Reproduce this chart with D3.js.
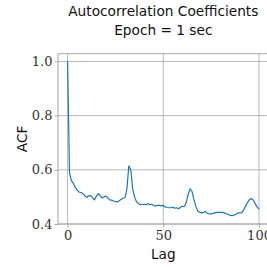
<!DOCTYPE html>
<html>
<head>
<meta charset="utf-8">
<script src="https://cdn.jsdelivr.net/npm/d3@7"></script>
<style>
  html, body { margin: 0; padding: 0; background: #fff; }
  svg { display: block; }
  .serif text { font-family: "DejaVu Serif", serif !important; }
</style>
</head>
<body>
<script>
// ---- data ----
const lags = d3.range(0, 101);
const acf = [
  1.0, 0.59, 0.56, 0.55, 0.535, 0.525, 0.518, 0.516, 0.512, 0.505,
  0.498, 0.504, 0.505, 0.497, 0.489, 0.502, 0.512, 0.505, 0.496, 0.500,
  0.503, 0.497, 0.489, 0.488, 0.485, 0.483, 0.481, 0.486, 0.491, 0.495,
  0.497, 0.53, 0.615, 0.60, 0.53, 0.50, 0.482, 0.476, 0.471, 0.472,
  0.473, 0.471, 0.476, 0.471, 0.473, 0.469, 0.466, 0.469, 0.469, 0.467,
  0.469, 0.463, 0.461, 0.460, 0.460, 0.462, 0.458, 0.460, 0.456, 0.462,
  0.465, 0.465, 0.480, 0.51, 0.53, 0.52, 0.49, 0.465, 0.448, 0.443,
  0.441, 0.443, 0.446, 0.439, 0.437, 0.437, 0.439, 0.441, 0.443, 0.443,
  0.443, 0.443, 0.440, 0.438, 0.435, 0.432, 0.431, 0.433, 0.436, 0.441,
  0.441, 0.442, 0.452, 0.466, 0.480, 0.490, 0.494, 0.488, 0.475, 0.463,
  0.455
];
const xTicks = [0, 50, 100];
const yTicks = [0.4, 0.6, 0.8, 1.0];
const titleLines = ["Autocorrelation Coefficients", "Epoch = 1 sec"];
const xLabel = "Lag";
const yLabel = "ACF";

// ---- layout ----
const W = 267, H = 267;
const mLeft = 58, mRight = 268.6, mTop = 53.7, mBottom = 224;

const x = d3.scaleLinear().domain([-5, 105]).range([mLeft, mRight]);
const y = d3.scaleLinear().domain([0.4, 1.0285]).range([mBottom, mTop]);

const svg = d3.select("body").append("svg").attr("width", W).attr("height", H);

const gridColor = "#b0b0b0";
const spineColor = "#a8a8a8";

// grid
svg.append("g").selectAll("line").data(xTicks).join("line")
  .attr("x1", d => x(d)).attr("x2", d => x(d))
  .attr("y1", mTop).attr("y2", mBottom)
  .attr("stroke", gridColor).attr("stroke-width", 0.9);
svg.append("g").selectAll("line").data(yTicks).join("line")
  .attr("x1", mLeft).attr("x2", mRight)
  .attr("y1", d => y(d)).attr("y2", d => y(d))
  .attr("stroke", gridColor).attr("stroke-width", 0.9);

// line
const line = d3.line().x((d, i) => x(lags[i])).y(d => y(d));
svg.append("path").datum(acf)
  .attr("d", line)
  .attr("fill", "none")
  .attr("stroke", "#1f77b4")
  .attr("stroke-width", 1.2)
  .attr("stroke-linejoin", "round");

// spines
svg.append("rect")
  .attr("x", mLeft).attr("y", mTop)
  .attr("width", mRight - mLeft).attr("height", mBottom - mTop)
  .attr("fill", "none").attr("stroke", spineColor).attr("stroke-width", 1);

// axes
const xAxis = d3.axisBottom(x).tickValues(xTicks).tickFormat(d3.format("d"))
  .tickSizeOuter(0).tickSizeInner(3.5).tickPadding(3);
const yAxis = d3.axisLeft(y).tickValues(yTicks).tickFormat(d3.format(".1f"))
  .tickSizeOuter(0).tickSizeInner(3.5).tickPadding(2);

const gx = svg.append("g").attr("class", "serif").attr("transform", `translate(0,${mBottom})`).call(xAxis);
const gy = svg.append("g").attr("class", "serif").attr("transform", `translate(${mLeft},0)`).call(yAxis);
[gx, gy].forEach(g => {
  g.attr("font-family", "DejaVu Serif").attr("font-size", 13);
  g.select(".domain").remove();
  g.selectAll(".tick line").attr("stroke", spineColor).attr("stroke-width", 1);
  g.selectAll(".tick text")
    .attr("fill", "#333")
    .attr("font-family", "DejaVu Serif")
    .attr("font-size", 13);
});

// title
const sans = "'DejaVu Sans', 'Noto Sans', sans-serif";
svg.append("text")
  .attr("x", (mLeft + mRight) / 2).attr("y", 16)
  .attr("text-anchor", "middle")
  .style("font-family", sans).style("font-size", "13.7px").attr("fill", "#111")
  .text(titleLines[0]);
svg.append("text")
  .attr("x", (mLeft + mRight) / 2).attr("y", 34.5)
  .attr("text-anchor", "middle")
  .style("font-family", sans).style("font-size", "13.7px").attr("fill", "#111")
  .text(titleLines[1]);

// axis labels
svg.append("text")
  .attr("x", (mLeft + mRight) / 2).attr("y", 258.5)
  .attr("text-anchor", "middle")
  .style("font-family", sans).style("font-size", "13.7px").attr("fill", "#111")
  .text(xLabel);
svg.append("text")
  .attr("transform", `translate(27,${(mTop + mBottom) / 2}) rotate(-90)`)
  .attr("text-anchor", "middle")
  .style("font-family", sans).style("font-size", "13.7px").attr("fill", "#111")
  .text(yLabel);
</script>
</body>
</html>
